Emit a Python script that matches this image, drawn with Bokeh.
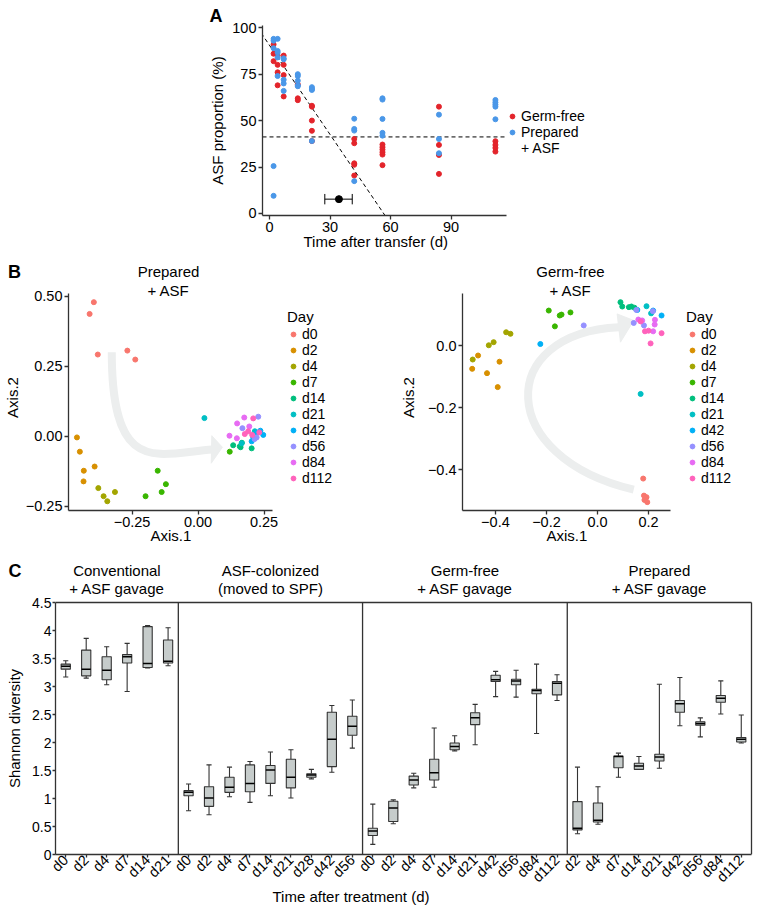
import math
from bokeh.plotting import figure
from bokeh.layouts import column, row
from bokeh.models import Range1d, Label, Legend, LegendItem, FixedTicker, Title
from bokeh.embed import file_html
from bokeh.resources import INLINE

FONT = "Liberation Sans"
INK = "#333333"
RED = "#e3242b"
BLUE = "#4a97e8"
ARROW = "#eceeee"
BOX_FILL = "#c6cccb"

# ---------------- Panel A : ASF proportion ----------------
gf_days = [2, 2, 2, 4, 4, 4, 4, 7, 7, 7, 7, 14, 14, 14, 21, 21, 21, 21, 21,
           42, 42, 42, 42, 42, 56, 56, 56, 56, 56, 56, 84, 84, 84, 84, 112, 112, 112, 112]
gf_asf = [91, 86, 82, 85, 80, 76, 69, 85, 80, 74.5, 63, 69.5, 62, 61, 58, 57.5, 50, 44.5, 39,
          40.1, 37.8, 27, 26.2, 20.4, 37.1, 35.7, 34.4, 33, 31.7, 26, 57.5, 36.9, 31.5, 21.3,
          38.9, 36.9, 35.3, 33.3]
prep_days = [2, 2, 2, 2, 2, 4, 4, 4, 4, 4, 7, 7, 7, 7, 7, 14, 14, 14, 14, 14, 21, 21, 21, 21,
             42, 42, 42, 42, 56, 56, 56, 56, 56, 84, 84, 84, 112, 112, 112, 112, 112]
prep_asf = [94, 93, 89, 25.5, 9.5, 94, 87.5, 86.6, 84, 74, 83.5, 83, 72, 70, 66,
            75, 74, 71.5, 69, 68.5, 68, 67, 66.5, 39, 51, 45.5, 44.6, 17.4,
            62, 61.3, 50.9, 43.4, 41.9, 53.2, 40.1, 32.4, 61.1, 59.8, 58.6, 57.5, 50.7]
plateau_level = 41.2
fit_intercept = 90.5
fit_slope = -1.6
cross_mean = 34.4
cross_lo = 27.4
cross_hi = 41.0
cross_y = 7.7
a_xlim = (-3.5, 117.5)
a_ylim = (-1.1, 101.2)
a_xticks = [0, 30, 60, 90]
a_yticks = [0, 25, 50, 75, 100]
a_legend = ["Germ-free", "Prepared", "+ ASF"]

# ---------------- Panel B : PCoA ----------------
day_levels = ["d0", "d2", "d4", "d7", "d14", "d21", "d42", "d56", "d84", "d112"]
day_colors = ["#F8766D", "#D89000", "#A3A500", "#39B600", "#00BF7D",
              "#00BFC4", "#00B0F6", "#9590FF", "#E76BF3", "#FF62BC"]

prep_pc_day = ["d0"] * 5 + ["d2"] * 5 + ["d4"] * 4 + ["d7"] * 5 + ["d14"] * 5 + \
              ["d21"] * 3 + ["d42"] * 5 + ["d56"] * 4 + ["d84"] * 5 + ["d112"] * 5
prep_pc1 = [-0.395, -0.411, -0.38, -0.268, -0.238,
            -0.459, -0.448, -0.433, -0.392, -0.434,
            -0.378, -0.358, -0.344, -0.315,
            -0.199, -0.153, -0.122, -0.138, 0.12,
            0.133, 0.161, 0.166, 0.203, 0.158,
            0.024, 0.215, 0.165,
            0.247, 0.209, 0.224, 0.203, 0.236,
            0.228, 0.168, 0.222, 0.214,
            0.148, 0.175, 0.194, 0.119, 0.147,
            0.209, 0.177, 0.205, 0.232, 0.19]
prep_pc2 = [0.479, 0.437, 0.292, 0.306, 0.274,
            -0.004, -0.055, -0.123, -0.108, -0.161,
            -0.185, -0.214, -0.232, -0.199,
            -0.214, -0.123, -0.171, -0.199, -0.055,
            -0.032, -0.039, -0.023, -0.043, -0.036,
            0.065, 0.018, -0.025,
            0.005, -0.004, 0.013, -0.018, 0.02,
            0.07, 0.029, -0.004, -0.01,
            0.046, 0.067, 0.035, 0.002, -0.007,
            0.064, 0.008, 0.005, 0.014, 0.018]

gf_pc_day = ["d0"] * 5 + ["d2"] * 5 + ["d4"] * 5 + ["d7"] * 5 + ["d14"] * 5 + \
            ["d21"] * 3 + ["d42"] * 4 + ["d56"] * 5 + ["d84"] * 5 + ["d112"] * 5
gf_pc1 = [0.179, 0.182, 0.192, 0.184, 0.195,
          -0.491, -0.468, -0.433, -0.384, -0.391,
          -0.489, -0.426, -0.407, -0.358, -0.341,
          -0.191, -0.167, -0.148, -0.141, -0.106,
          0.09, 0.097, 0.123, 0.133, 0.145,
          0.192, 0.21, 0.169,
          -0.224, 0.251, 0.218, 0.156,
          -0.054, 0.142, 0.152, 0.217, 0.182,
          0.175, 0.225, 0.224, 0.218, 0.16,
          0.169, 0.186, 0.2, 0.251, 0.208]
gf_pc2 = [-0.429, -0.484, -0.489, -0.498, -0.505,
          -0.075, -0.032, -0.089, -0.052, -0.134,
          -0.045, 0.001, 0.011, 0.043, 0.038,
          0.113, 0.062, 0.097, 0.1, 0.107,
          0.14, 0.126, 0.124, 0.126, 0.122,
          0.127, 0.104, -0.156,
          0.005, 0.097, 0.113, 0.115,
          0.065, 0.073, 0.115, 0.111, 0.065,
          0.081, 0.083, 0.068, 0.046, 0.084,
          0.078, 0.046, 0.048, 0.04, 0.007]

# trajectory arrows (annotation): start, control 1, control 2, end ; head: tip, base1, base2
prep_arrow = [(-0.327, 0.30), (-0.327, -0.15), (-0.15, -0.06), (0.055, -0.047)]
prep_head = [(0.092, -0.039), (0.052, 0.002), (0.05, -0.096)]
gf_arrow = [(0.142, -0.465), (-0.40, -0.36), (-0.40, 0.04), (0.084, 0.059)]
gf_head = [(0.142, 0.081), (0.077, 0.102), (0.09, 0.011)]

# ---------------- Panel C : Shannon diversity ----------------
c_titles_1 = ["Conventional", "ASF-colonized", "Germ-free", "Prepared"]
c_titles_2 = ["+ ASF gavage", "(moved to SPF)", "+ ASF gavage", "+ ASF gavage"]
conv_days = ["d0", "d2", "d4", "d7", "d14", "d21"]
asfc_days = ["d0", "d2", "d4", "d7", "d14", "d21", "d28", "d42", "d56"]
gfc_days = ["d0", "d2", "d4", "d7", "d14", "d21", "d42", "d56", "d84", "d112"]
prepc_days = ["d2", "d4", "d7", "d14", "d21", "d42", "d56", "d84", "d112"]

conv_lo = [3.17, 3.15, 3.03, 2.91, 3.33, 3.37]
conv_q1 = [3.31, 3.19, 3.12, 3.42, 3.34, 3.42]
conv_med = [3.36, 3.31, 3.29, 3.53, 3.41, 3.45]
conv_q3 = [3.40, 3.65, 3.53, 3.57, 4.07, 3.83]
conv_hi = [3.46, 3.86, 3.71, 3.77, 4.09, 4.05]

asfc_lo = [0.78, 0.71, 1.03, 0.93, 1.05, 1.01, 1.35, 1.47, 1.90]
asfc_q1 = [1.05, 0.86, 1.11, 1.12, 1.27, 1.19, 1.38, 1.57, 2.13]
asfc_med = [1.11, 1.01, 1.20, 1.27, 1.51, 1.38, 1.42, 2.06, 2.29]
asfc_q3 = [1.14, 1.21, 1.38, 1.60, 1.59, 1.70, 1.44, 2.54, 2.47]
asfc_hi = [1.26, 1.60, 1.56, 1.66, 1.83, 1.87, 1.52, 2.66, 2.76]

gfc_lo = [0.18, 0.55, 1.19, 1.20, 1.85, 1.96, 2.82, 2.81, 2.16, 2.75]
gfc_q1 = [0.34, 0.59, 1.24, 1.33, 1.87, 2.32, 3.09, 3.03, 2.87, 2.85]
gfc_med = [0.42, 0.83, 1.33, 1.46, 1.93, 2.44, 3.12, 3.10, 2.93, 3.06]
gfc_q3 = [0.47, 0.95, 1.40, 1.70, 1.99, 2.53, 3.20, 3.13, 2.95, 3.09]
gfc_hi = [0.90, 0.975, 1.45, 2.26, 2.12, 2.68, 3.27, 3.29, 3.40, 3.21]

prepc_lo = [0.37, 0.54, 1.38, 1.52, 1.54, 2.30, 2.10, 2.51, 1.99]
prepc_q1 = [0.44, 0.58, 1.55, 1.52, 1.67, 2.54, 2.31, 2.72, 2.01]
prepc_med = [0.47, 0.61, 1.75, 1.58, 1.74, 2.69, 2.34, 2.79, 2.06]
prepc_q3 = [0.945, 0.92, 1.76, 1.63, 1.79, 2.75, 2.37, 2.84, 2.09]
prepc_hi = [1.56, 1.21, 1.81, 1.75, 3.04, 3.16, 2.44, 3.10, 2.49]

c_yticks = [0, 0.5, 1, 1.5, 2, 2.5, 3, 3.5, 4, 4.5]
c_ymax = 4.5


# ---------------- helpers ----------------
def make_fig(w, h, xr, yr, ml, mr, mt, mb):
    p = figure(width=w, height=h, x_range=Range1d(*xr), y_range=Range1d(*yr),
               output_backend="svg", toolbar_location=None,
               min_border_left=ml, min_border_right=mr,
               min_border_top=mt, min_border_bottom=mb)
    p.xgrid.visible = False
    p.ygrid.visible = False
    p.outline_line_color = None
    p.background_fill_color = "white"
    p.border_fill_color = "white"
    return p


def text_fig(x0, y0, w, h):
    # a blank strip whose data coordinates equal page pixels; holds panel letters / titles
    p = figure(width=w, height=h, x_range=Range1d(x0, x0 + w), y_range=Range1d(y0 + h, y0),
               x_axis_location=None, y_axis_location=None, output_backend="svg",
               toolbar_location=None, min_border=0)
    p.grid.visible = False
    p.outline_line_color = None
    p.background_fill_color = "white"
    p.border_fill_color = "white"
    return p


def style_axes(p, size="14.5px"):
    for ax in list(p.xaxis) + list(p.yaxis):
        ax.axis_line_color = INK
        ax.axis_line_width = 1.3
        ax.major_tick_line_color = INK
        ax.major_tick_line_width = 1.3
        ax.major_tick_in = 0
        ax.major_tick_out = 4
        ax.minor_tick_line_color = None
        ax.major_label_text_font = FONT
        ax.major_label_text_font_size = size
        ax.major_label_text_color = "black"
        ax.major_label_standoff = 2


def add_text(p, x, y, text, size="15px", align="center", bold=False, angle=0.0,
             x_units="screen", y_units="screen"):
    p.add_layout(Label(x=x, y=y, x_units=x_units, y_units=y_units, text=text,
                       text_font=FONT, text_font_size=size, text_align=align,
                       text_baseline="middle", text_color="black", angle=angle,
                       text_font_style="bold" if bold else "normal"))


def add_below_title(p, text, offset, standoff):
    p.add_layout(Title(text=text, align="left", offset=offset, standoff=standoff,
                       vertical_align="top",
                       text_font=FONT, text_font_size="15px", text_font_style="normal",
                       text_color="black"), "below")


def style_legend(leg, step):
    leg.label_text_font = FONT
    leg.label_text_font_size = "14px"
    leg.label_text_color = "black"
    leg.title_text_font = FONT
    leg.title_text_font_size = "15px"
    leg.title_text_font_style = "normal"
    leg.title_text_color = "black"
    leg.title_standoff = 1
    leg.glyph_width = 12
    leg.glyph_height = step
    leg.label_height = step
    leg.label_standoff = 3
    leg.spacing = 0
    leg.padding = 0
    leg.margin = 0
    leg.border_line_color = None
    leg.background_fill_alpha = 0


# ---------------- Row 1 : panel A ----------------
tA = text_fig(0, 0, 228, 262)
add_text(tA, 215.5, 15, "A", size="18px", bold=True, x_units="data", y_units="data")
add_text(tA, 217, 120, "ASF proportion (%)", angle=math.pi / 2, x_units="data", y_units="data")

a_px_per_day = 244 / (a_xlim[1] - a_xlim[0])          # axis occupies 244 px
a_frame_right_extra = 94                                # free room right of the axis for the legend
pA = make_fig(532, 262, (a_xlim[0], a_xlim[1] + a_frame_right_extra / a_px_per_day), a_ylim,
              34, 160, 25, 47)
pA.xaxis.ticker = FixedTicker(ticks=a_xticks)
pA.yaxis.ticker = FixedTicker(ticks=a_yticks)
style_axes(pA)
pA.xaxis.bounds = a_xlim
add_below_title(pA, "Time after transfer (d)", 41, -4)
pA.segment(x0=[a_xlim[0]], y0=[plateau_level], x1=[a_xlim[1]], y1=[plateau_level],
           line_color="black", line_width=1, line_dash="4 3")
fx = [-10, a_xlim[1]]
pA.segment(x0=[fx[0]], y0=[fit_intercept + fit_slope * fx[0]],
           x1=[fx[1]], y1=[fit_intercept + fit_slope * fx[1]],
           line_color="black", line_width=1, line_dash="4 3")
rG = pA.scatter(gf_days, gf_asf, size=5, color=RED)
rP = pA.scatter(prep_days, prep_asf, size=5, color=BLUE)
rX = pA.scatter([], [], size=5, fill_alpha=0, line_alpha=0)
pA.segment(x0=[cross_lo], y0=[cross_y], x1=[cross_hi], y1=[cross_y], line_color="black", line_width=1)
pA.segment(x0=[cross_lo, cross_hi], y0=[cross_y - 2.8, cross_y - 2.8],
           x1=[cross_lo, cross_hi], y1=[cross_y + 2.8, cross_y + 2.8],
           line_color="black", line_width=1)
pA.scatter([cross_mean], [cross_y], size=7, color="black")
legA = Legend(items=[LegendItem(label=a_legend[0], renderers=[rG]),
                     LegendItem(label=a_legend[1], renderers=[rP]),
                     LegendItem(label=a_legend[2], renderers=[rX])], location=(244, 59))
style_legend(legA, 16)
pA.add_layout(legA)


# ---------------- Row 2 : panel B ----------------
def pcoa_fig(width, xlim, axis_px, extra_px, yr, ybounds, ml, xt, xl, yt, yl,
             days, pc1, pc2, arrow, head, leg_x, title_offset):
    px_per_unit = axis_px / (xlim[1] - xlim[0])
    p = make_fig(width, 294, (xlim[0], xlim[1] + extra_px / px_per_unit), yr, ml, 0, 0, 46)
    p.xaxis.ticker = FixedTicker(ticks=xt)
    p.yaxis.ticker = FixedTicker(ticks=yt)
    p.xaxis.major_label_overrides = dict(zip(xt, xl))
    p.yaxis.major_label_overrides = dict(zip(yt, yl))
    style_axes(p)
    p.xaxis.bounds = xlim
    p.yaxis.bounds = ybounds
    add_below_title(p, "Axis.1", title_offset, -6)
    (sx, sy), (c1x, c1y), (c2x, c2y), (ex, ey) = arrow
    p.bezier(x0=[sx], y0=[sy], x1=[ex], y1=[ey], cx0=[c1x], cy0=[c1y], cx1=[c2x], cy1=[c2y],
             line_color=ARROW, line_width=8)
    p.patch([h[0] for h in head], [h[1] for h in head], fill_color=ARROW, line_color=ARROW)
    items = []
    for lev, col in zip(day_levels, day_colors):
        xs = [x for x, d in zip(pc1, days) if d == lev]
        ys = [y for y, d in zip(pc2, days) if d == lev]
        r = p.scatter(xs, ys, size=5, color=col)
        items.append(LegendItem(label=lev, renderers=[r]))
    leg = Legend(items=items, title="Day", location=(leg_x, 24))
    style_legend(leg, 16)
    p.add_layout(leg)
    return p


tB = text_fig(0, 262, 22, 294)
add_text(tB, 14, 271, "B", size="18px", bold=True, x_units="data", y_units="data")
add_text(tB, 12, 397, "Axis.2", angle=math.pi / 2, x_units="data", y_units="data")

pBL = pcoa_fig(398, (-0.491, 0.282), 204, 148, (-0.265, 0.6207), (-0.265, 0.51), 46,
               [-0.25, 0, 0.25], ["\u22120.25", "0.00", "0.25"],
               [-0.25, 0, 0.25, 0.5], ["\u22120.25", "0.00", "0.25", "0.50"],
               prep_pc_day, prep_pc1, prep_pc2, prep_arrow, prep_head, 219, 82)
add_text(pBL, 100, 239, "Prepared")
add_text(pBL, 100, 220, "+ ASF")
# y-axis title of the right-hand PCoA falls inside this (wider) frame
add_text(pBL, 339.5, 113, "Axis.2", angle=math.pi / 2)

pBR = pcoa_fig(340, (-0.529, 0.286), 208, 90, (-0.532, 0.268), (-0.532, 0.168), 42,
               [-0.4, -0.2, 0, 0.2], ["\u22120.4", "\u22120.2", "0.0", "0.2"],
               [-0.4, -0.2, 0], ["\u22120.4", "\u22120.2", "0.0"],
               gf_pc_day, gf_pc1, gf_pc2, gf_arrow, gf_head, 224, 84)
add_text(pBR, 108, 239, "Germ-free")
add_text(pBR, 108, 220, "+ ASF")

# ---------------- Row 3 : panel C ----------------
c_days = conv_days + asfc_days + gfc_days + prepc_days
c_lo = conv_lo + asfc_lo + gfc_lo + prepc_lo
c_q1 = conv_q1 + asfc_q1 + gfc_q1 + prepc_q1
c_med = conv_med + asfc_med + gfc_med + prepc_med
c_q3 = conv_q3 + asfc_q3 + gfc_q3 + prepc_q3
c_hi = conv_hi + asfc_hi + gfc_hi + prepc_hi
group_sizes = [len(conv_days), len(asfc_days), len(gfc_days), len(prepc_days)]
n_cat = len(c_days)
pos = [i + 0.5 for i in range(n_cat)]

tC = text_fig(0, 556, 28, 356)
add_text(tC, 14.5, 570, "C", size="18px", bold=True, x_units="data", y_units="data")
add_text(tC, 14, 728, "Shannon diversity", angle=math.pi / 2, x_units="data", y_units="data")

px_per_cat = 696 / n_cat
px_per_unit = 252 / c_ymax
pC = make_fig(732, 356, (0, n_cat + 2 / px_per_cat), (0, c_ymax + 46 / px_per_unit), 27, 7, 0, 58)
pC.xaxis.ticker = FixedTicker(ticks=pos)
pC.xaxis.major_label_overrides = dict(zip(pos, c_days))
pC.yaxis.ticker = FixedTicker(ticks=c_yticks)
pC.yaxis.major_label_overrides = {t: ("%g" % t) for t in c_yticks}
style_axes(pC, "14px")
pC.xaxis.major_label_text_font_size = "14.5px"
pC.xaxis.bounds = (0, n_cat)
pC.yaxis.bounds = (0, c_ymax)
pC.xaxis.major_label_orientation = math.pi / 4
pC.xaxis.major_tick_out = 3
pC.xaxis.major_label_standoff = 0
pC.yaxis.major_tick_out = 3
pC.yaxis.major_label_standoff = 1

# panel box and separators
bounds_x = [0]
for n in group_sizes:
    bounds_x.append(bounds_x[-1] + n)
pC.segment(x0=[0], y0=[c_ymax], x1=[n_cat], y1=[c_ymax], line_color=INK, line_width=1.3)
pC.segment(x0=bounds_x[1:], y0=[0] * len(group_sizes), x1=bounds_x[1:], y1=[c_ymax] * len(group_sizes),
           line_color=INK, line_width=1.3)

bw = 0.45
cw = 0.125
pC.segment(x0=pos, y0=c_q3, x1=pos, y1=c_hi, line_color=INK, line_width=1.1)
pC.segment(x0=pos, y0=c_q1, x1=pos, y1=c_lo, line_color=INK, line_width=1.1)
pC.segment(x0=[p_ - cw for p_ in pos], y0=c_hi, x1=[p_ + cw for p_ in pos], y1=c_hi,
           line_color=INK, line_width=1.1)
pC.segment(x0=[p_ - cw for p_ in pos], y0=c_lo, x1=[p_ + cw for p_ in pos], y1=c_lo,
           line_color=INK, line_width=1.1)
pC.vbar(x=pos, width=bw, bottom=c_q1, top=c_q3, fill_color=BOX_FILL, line_color=INK, line_width=1.1)
pC.segment(x0=[p_ - bw / 2 for p_ in pos], y0=c_med, x1=[p_ + bw / 2 for p_ in pos], y1=c_med,
           line_color="black", line_width=1.5)

for k in range(len(group_sizes)):
    center = (bounds_x[k] + bounds_x[k + 1]) / 2
    add_text(pC, center, 284, c_titles_1[k], x_units="data")
    add_text(pC, center, 266, c_titles_2[k], x_units="data")

add_below_title(pC, "Time after treatment (d)", 217, -12)

layout = column(row(column(tA), column(pA)),
                row(column(tB), column(pBL), column(pBR)),
                row(column(tC), column(pC)))
open("out.html", "w").write(file_html(layout, INLINE))
